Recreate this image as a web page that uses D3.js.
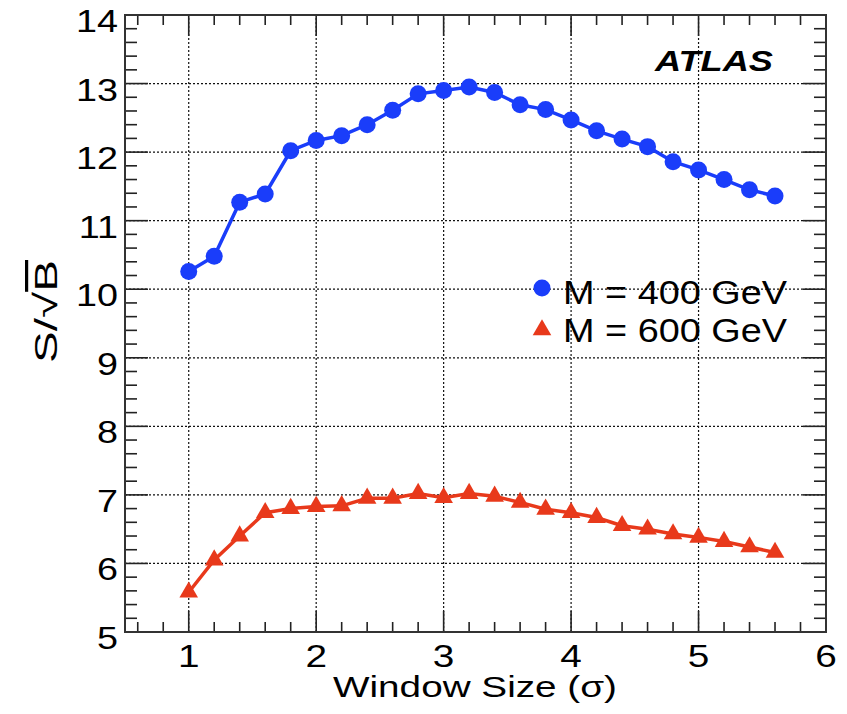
<!DOCTYPE html>
<html>
<head>
<meta charset="utf-8">
<script src="https://cdn.jsdelivr.net/npm/d3@7"></script>
<style>
  body { margin: 0; background: #fff; }
  svg { display: block; font-family: "Liberation Sans", Arial, sans-serif; }
</style>
</head>
<body>
<script>
// window sizes (sigma)
const windowSizes = [1.0, 1.2, 1.4, 1.6, 1.8, 2.0, 2.2, 2.4, 2.6, 2.8, 3.0, 3.2,
  3.4, 3.6, 3.8, 4.0, 4.2, 4.4, 4.6, 4.8, 5.0, 5.2, 5.4, 5.6];
const m400 = [10.26, 10.48, 11.27, 11.39, 12.02, 12.17, 12.24, 12.40, 12.61, 12.85, 12.90, 12.95,
  12.87, 12.69, 12.62, 12.47, 12.31, 12.19, 12.08, 11.86, 11.74, 11.60, 11.45, 11.36];
const m600 = [5.58, 6.05, 6.40, 6.74, 6.80, 6.83, 6.84, 6.95, 6.95, 7.02, 6.96, 7.02,
  6.98, 6.89, 6.79, 6.74, 6.67, 6.55, 6.50, 6.43, 6.38, 6.32, 6.24, 6.16];
const xTicks = [1, 2, 3, 4, 5, 6];
const yTicks = [5, 6, 7, 8, 9, 10, 11, 12, 13, 14];
const legendLabels = ['M = 400 GeV', 'M = 600 GeV'];

const width = 847, height = 714;
const margin = { top: 15, right: 21, bottom: 82, left: 125 };
const blue = '#1a3dfa', red = '#e8391b';

const svg = d3.select('body').append('svg')
  .attr('width', width)
  .attr('height', height);

const x = d3.scaleLinear().domain([0.5, 6]).range([margin.left, width - margin.right]);
const y = d3.scaleLinear().domain([5, 14]).range([height - margin.bottom, margin.top]);

const x0 = x.range()[0], x1 = x.range()[1];
const y0 = y.range()[0], y1 = y.range()[1];

// dotted grid
const grid = svg.append('g')
  .attr('stroke', '#111')
  .attr('stroke-width', 1.2)
  .attr('stroke-dasharray', '2,2');
grid.selectAll('line.vx')
  .data(xTicks.filter(d => d > 0.5 && d < 6))
  .join('line')
  .attr('x1', d => x(d)).attr('x2', d => x(d))
  .attr('y1', y0).attr('y2', y1);
grid.selectAll('line.hy')
  .data(yTicks.filter(d => d > 5 && d < 14))
  .join('line')
  .attr('x1', x0).attr('x2', x1)
  .attr('y1', d => y(d)).attr('y2', d => y(d));

// ticks on all four sides
const minorX = d3.range(0.6, 6.0, 0.2).map(d => +d.toFixed(1));
const minorY = d3.range(5.2, 14.0, 0.2).map(d => +d.toFixed(1));
const tickLen = d => (Math.abs(d - Math.round(d)) < 1e-6 ? 21 : 10);

const ticks = svg.append('g').attr('stroke', '#222').attr('stroke-width', 1.6);
ticks.selectAll('line.bx').data(minorX).join('line')
  .attr('x1', d => x(d)).attr('x2', d => x(d))
  .attr('y1', y0).attr('y2', d => y0 - tickLen(d));
ticks.selectAll('line.tx').data(minorX).join('line')
  .attr('x1', d => x(d)).attr('x2', d => x(d))
  .attr('y1', y1).attr('y2', d => y1 + tickLen(d));
ticks.selectAll('line.ly').data(minorY).join('line')
  .attr('x1', x0).attr('x2', d => x0 + tickLen(d) + 2)
  .attr('y1', d => y(d)).attr('y2', d => y(d));
ticks.selectAll('line.ry').data(minorY).join('line')
  .attr('x1', x1).attr('x2', d => x1 - tickLen(d) - 2)
  .attr('y1', d => y(d)).attr('y2', d => y(d));

// frame
svg.append('rect')
  .attr('x', x0).attr('y', y1)
  .attr('width', x1 - x0).attr('height', y0 - y1)
  .attr('fill', 'none')
  .attr('stroke', '#333')
  .attr('stroke-width', 2);

// tick labels (glyphs a bit wider than the font, as in the original)
svg.append('g').selectAll('text').data(xTicks).join('text')
  .attr('transform', d => `translate(${x(d)},667) scale(1.25,1)`)
  .attr('text-anchor', 'middle')
  .style('font-size', '31px')
  .text(d => d);

svg.append('g').selectAll('text').data(yTicks).join('text')
  .attr('transform', d => `translate(118,${y(d) + 17}) scale(1.18,1)`)
  .attr('text-anchor', 'end')
  .style('font-size', '32px')
  .text(d => d);

// axis titles
svg.append('text')
  .attr('x', 333)
  .attr('y', 697)
  .attr('textLength', 284)
  .attr('lengthAdjust', 'spacingAndGlyphs')
  .style('font-size', '30px')
  .text('Window Size (σ)');

const yTitle = svg.append('text')
  .attr('transform', 'translate(57,363) rotate(-90)')
  .attr('textLength', 103)
  .attr('lengthAdjust', 'spacingAndGlyphs')
  .style('font-size', '32px');
yTitle.append('tspan').text('S/√');
yTitle.append('tspan').style('text-decoration', 'overline').text('B');

svg.append('text')
  .attr('x', 655)
  .attr('y', 71)
  .attr('textLength', 118)
  .attr('lengthAdjust', 'spacingAndGlyphs')
  .style('font-size', '29px')
  .style('font-weight', 'bold')
  .style('font-style', 'italic')
  .text('ATLAS');

// series
const line = d3.line()
  .x(d => x(d[0]))
  .y(d => y(d[1]));

const s400 = windowSizes.map((w, i) => [w, m400[i]]);
const s600 = windowSizes.map((w, i) => [w, m600[i]]);

svg.append('path')
  .datum(s400)
  .attr('fill', 'none')
  .attr('stroke', blue)
  .attr('stroke-width', 3.5)
  .attr('d', line);

svg.append('g').selectAll('circle').data(s400).join('circle')
  .attr('cx', d => x(d[0]))
  .attr('cy', d => y(d[1]))
  .attr('r', 8.5)
  .attr('fill', blue);

svg.append('path')
  .datum(s600)
  .attr('fill', 'none')
  .attr('stroke', red)
  .attr('stroke-width', 3.5)
  .attr('d', line);

const tri = d3.symbol().type(d3.symbolTriangle).size(150);
svg.append('g').selectAll('path').data(s600).join('path')
  .attr('transform', d => `translate(${x(d[0])},${y(d[1])})`)
  .attr('d', tri)
  .attr('fill', red);

// legend
const legend = svg.append('g');
legend.append('circle')
  .attr('cx', 542).attr('cy', 288).attr('r', 8.5)
  .attr('fill', blue);
legend.append('path')
  .attr('transform', 'translate(542,330)')
  .attr('d', tri)
  .attr('fill', red);
legend.selectAll('text').data(legendLabels).join('text')
  .attr('x', 563)
  .attr('y', (d, i) => 304 + i * 38)
  .attr('textLength', 224)
  .attr('lengthAdjust', 'spacingAndGlyphs')
  .style('font-size', '33px')
  .text(d => d);
</script>
</body>
</html>
